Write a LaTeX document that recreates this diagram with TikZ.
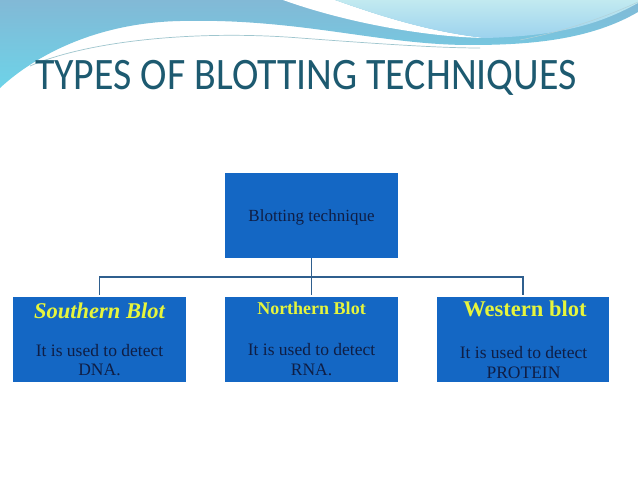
\documentclass[tikz,border=0pt]{standalone}
\usepackage{graphicx}
\usepackage{fontspec}
\setmainfont{Liberation Serif}
\newfontfamily\titlefont{Carlito}
\usetikzlibrary{calc}
\definecolor{boxblue}{HTML}{1467C4}
\definecolor{navytext}{HTML}{0F1E45}
\definecolor{yel}{HTML}{E6F53C}
\definecolor{titleteal}{HTML}{1D5A70}
\definecolor{linkblue}{HTML}{2F5F8E}
\definecolor{waveA}{HTML}{82B9D6}
\definecolor{waveAb}{HTML}{6DD3E8}
\definecolor{waveC}{HTML}{C2EAF0}
\definecolor{waveCb}{HTML}{9CD2EE}
\definecolor{streak}{HTML}{9FC6CE}
\tikzset{
  blotbox/.style={draw=none, fill=boxblue, minimum width=173pt, minimum height=85pt, inner sep=0pt},
  bodytext/.style={text=navytext, font=\fontsize{17.5}{20}\selectfont, anchor=base, inner sep=0pt},
  link/.style={draw=linkblue, line width=1.8pt}
}
\begin{document}
\begin{tikzpicture}[x=1pt,y=-1pt]
\useasboundingbox (0,0) rectangle (638,479);
\fill[white] (0,0) rectangle (638,479);
% decorative waves
\shade[top color=waveA, bottom color=waveAb]
  (0,0) -- (638,0) -- (638,12)
  .. controls (590,40) and (530,45) .. (470,45)
  .. controls (380,45) and (300,18) .. (180,21)
  .. controls (90,23) and (30,60) .. (0,88) -- cycle;
\fill[white] (283,0) -- (335,0) .. controls (380,16) and (430,32) .. (485,38)
  .. controls (430,37) and (350,24) .. (283,0) -- cycle;
\shade[top color=waveC, bottom color=waveCb]
  (335,0) -- (638,0) -- (638,3)
  .. controls (600,24) and (560,36) .. (485,38)
  .. controls (430,32) and (380,16) .. (335,0) -- cycle;
\draw[streak, line width=0.7pt] (30,66) .. controls (90,40) and (200,30) .. (300,38) .. controls (380,44) and (440,48) .. (480,48);
\draw[streak!80!white, line width=0.5pt] (520,40) .. controls (570,30) and (610,15) .. (638,2);
% title
\node[anchor=base west, inner sep=0pt, text=titleteal, font=\titlefont\fontsize{45}{48}\selectfont] (title) at (35,89) {\scalebox{0.885}[1]{TYPES OF BLOTTING TECHNIQUES}};
% boxes
\node[blotbox] (top) at (311.5,215) {};
\node[blotbox] (sb) at (99.5,339.5) {};
\node[blotbox] (nb) at (311.5,339.5) {};
\node[blotbox, minimum width=172pt] (wb) at (523,339.5) {};
% connectors
\coordinate (bus) at (311.5,277);
\draw[link] (top.south) -- (bus);
\draw[link] (bus) -| ($(sb.north)+(0,-2)$);
\draw[link] (bus) -| ($(wb.north)+(0,-2)$);
\draw[link] (bus) -- ($(nb.north)+(0,-2)$);
% texts
\node[bodytext, font=\fontsize{17}{20}\selectfont] (toptext) at (311.5,221) {Blotting technique};
\node[anchor=base, inner sep=0pt, text=yel, font=\fontsize{22.5}{25}\selectfont\bfseries\itshape] (sbt) at (99.5,318) {Southern Blot};
\node[bodytext] (sb1) at (99.5,356) {It is used to detect};
\node[bodytext] (sb2) at (99.5,375) {DNA.};
\node[anchor=base, inner sep=0pt, text=yel, font=\fontsize{18}{22}\selectfont\bfseries] (nbt) at (311.5,314) {Northern Blot};
\node[bodytext] (nb1) at (311.5,355) {It is used to detect};
\node[bodytext] (nb2) at (311.5,375) {RNA.};
\node[anchor=base, inner sep=0pt, text=yel, font=\fontsize{22.5}{26}\selectfont\bfseries] (wbt) at (525,316) {Western blot};
\node[bodytext] (wb1) at (523.5,358) {It is used to detect};
\node[bodytext] (wb2) at (523.5,378) {PROTEIN};
\end{tikzpicture}
\end{document}
